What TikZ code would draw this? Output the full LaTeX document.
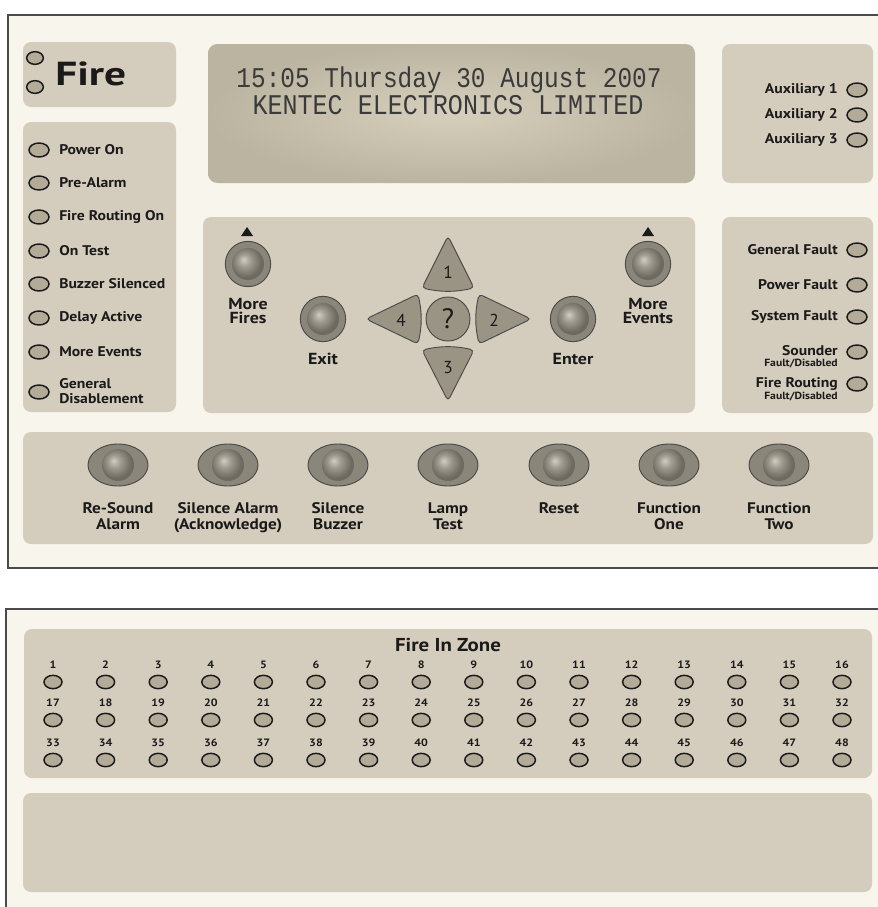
\documentclass[tikz,border=0pt]{standalone}
\usepackage{fontspec}
\usepackage{graphicx}
\setmainfont{PT Sans}
\newfontfamily\widefont[FakeStretch=1.12]{PT Sans}
\newfontfamily\lcdfont{Liberation Mono}
\usetikzlibrary{shapes.geometric}
\definecolor{cream}{HTML}{F8F5EC}
\definecolor{subp}{HTML}{D4CCBC}
\definecolor{ledfill}{HTML}{B3AB98}
\definecolor{frame}{HTML}{4A4A4A}
\definecolor{btnout}{HTML}{8B867A}
\definecolor{navfill}{HTML}{9A9484}
\definecolor{ink}{HTML}{1A1A1A}
\definecolor{lcdink}{HTML}{3A3A3A}
\definecolor{lcdhi}{HTML}{D6CFBD}
\definecolor{lcdlo}{HTML}{BBB4A0}
\definecolor{knobhi}{HTML}{D2CDC2}
\definecolor{knobmid}{HTML}{A09B8F}
\definecolor{knoblo}{HTML}{6E6A61}
\pgfdeclareradialshading{knob}{\pgfpoint{-7bp}{7bp}}{color(0bp)=(knobhi); color(10bp)=(knobmid); color(24bp)=(knoblo); color(50bp)=(knoblo)}
\begin{document}
\begin{tikzpicture}[x=0.75pt,y=-0.75pt,
  subpanel/.style={fill=subp, rounded corners=6pt},
  led/.style={ellipse, draw=ink, line width=1.1pt, fill=ledfill, minimum width=15pt, minimum height=10.5pt, inner sep=0pt},
  smallled/.style={led, minimum width=12.5pt, minimum height=9.5pt},
  zoneled/.style={led, minimum width=13.5pt, minimum height=10pt},
  lbl/.style={font=\widefont\bfseries\fontsize{10.5}{11}\selectfont, text=ink, inner sep=0pt},
  sublbl/.style={font=\widefont\bfseries\fontsize{7.8}{8}\selectfont, text=ink, inner sep=0pt},
  blbl/.style={font=\widefont\bfseries\fontsize{11.5}{12}\selectfont, text=ink, inner sep=0pt, align=center},
  nlbl/.style={font=\widefont\bfseries\fontsize{12}{10.5}\selectfont, text=ink, inner sep=0pt, align=center},
  znum/.style={font=\widefont\bfseries\fontsize{8}{8}\selectfont, text=ink, inner sep=0pt},
  navbtn/.style={circle, draw=frame, line width=0.7pt, fill=btnout, minimum size=34pt, inner sep=0pt},
  bigbtn/.style={ellipse, draw=frame, line width=0.7pt, fill=btnout, minimum width=45pt, minimum height=31.5pt, inner sep=0pt},
  knobc/.style={circle, shading=knob, minimum size=24pt, inner sep=0pt},
  navtri/.style={fill=navfill, draw=frame, line width=0.7pt, rounded corners=3pt},
  navnum/.style={font=\fontsize{13}{13}\selectfont, text=ink, inner sep=0pt},
  lcdtxt/.style={font=\lcdfont, text=lcdink, inner sep=0pt}
]
\clip (0,0) rectangle (878,907);
\fill[white] (0,0) rectangle (878,907);

% ---------- top panel ----------
\draw[fill=cream, draw=frame, line width=1.4pt] (8,15) rectangle (895,568);

% Fire box
\path[subpanel] (23,42) rectangle (176,107);
\node[smallled] (fireled1) at (35,58) {};
\node[smallled] (fireled2) at (35,87) {};
\node[font=\bfseries\fontsize{25}{25}\selectfont, text=ink, inner sep=0pt, anchor=west] (firetxt) at (55,74) {\scalebox{1.3}[1]{Fire}};

% left status panel
\path[subpanel] (23,122) rectangle (176,412);
\foreach \y/\t [count=\i] in {150/Power On, 183/Pre-Alarm, 217/Fire Routing On, 251/On Test, 284/Buzzer Silenced, 318/Delay Active, 352/More Events}{
  \node[led] (lled\i) at (39,\y) {};
  \node[lbl, anchor=west] (llbl\i) at (59,\y) {\t};
}
\node[led] (lled8) at (39,392) {};
\node[lbl, anchor=west, align=left, font=\widefont\bfseries\fontsize{10.5}{11}\selectfont] (llbl8) at (59,391) {General\\Disablement};

% LCD
\shade[rounded corners=7pt, inner color=lcdhi, outer color=lcdlo] (208,44) rectangle (695,183);
\node[lcdtxt] (lcd1) at (449,80) {\scalebox{0.985}[1.15]{\fontsize{18.6}{19}\selectfont 15:05 Thursday 30 August 2007}};
\node[lcdtxt] (lcd2) at (448,105) {\scalebox{1.01}[1.15]{\fontsize{18.6}{19}\selectfont KENTEC ELECTRONICS LIMITED}};

% Auxiliary panel
\path[subpanel] (722,44) rectangle (873,183);
\foreach \y/\t [count=\i] in {90/Auxiliary 1, 115/Auxiliary 2, 140/Auxiliary 3}{
  \node[led] (aled\i) at (857,\y) {};
  \node[lbl, anchor=east] (albl\i) at (838,\y) {\t};
}

% Fault panel
\path[subpanel] (722,217) rectangle (873,413);
\foreach \y/\t [count=\i] in {250/General Fault, 285/Power Fault, 317/System Fault}{
  \node[led] (fled\i) at (857,\y) {};
  \node[lbl, anchor=east] (flbl\i) at (838,\y) {\t};
}
\node[led] (fled4) at (857,352) {};
\node[lbl, anchor=east] (flbl4) at (838,351) {Sounder};
\node[sublbl, anchor=east] (fsub4) at (838,364) {Fault/Disabled};
\node[led] (fled5) at (857,384) {};
\node[lbl, anchor=east] (flbl5) at (838,384) {Fire Routing};
\node[sublbl, anchor=east] (fsub5) at (838,397) {Fault/Disabled};

% Navigation panel
\path[subpanel] (203,217) rectangle (695,413);
\fill[ink] (241,236) -- (253,236) -- (247,227) -- cycle;
\fill[ink] (642,236) -- (654,236) -- (648,227) -- cycle;
\node[navbtn] (morefires) at (248,264) {};
\node[knobc] at (morefires) {};
\node[nlbl] (morefireslbl) at (248,311) {More\\Fires};
\node[navbtn] (moreevents) at (648,264) {};
\node[knobc] at (moreevents) {};
\node[nlbl] (moreeventslbl) at (648,311) {More\\Events};
\node[navbtn] (exit) at (323,319) {};
\node[knobc] at (exit) {};
\node[nlbl] (exitlbl) at (323,359) {Exit};
\node[navbtn] (enter) at (573,319) {};
\node[knobc] at (enter) {};
\node[nlbl] (enterlbl) at (573,359) {Enter};
% arrow keys
\draw[navtri] (448,236) -- (474,288) to[bend left=12] (422,288) -- cycle;
\draw[navtri] (448,401) -- (422,350) to[bend left=12] (474,350) -- cycle;
\draw[navtri] (366,319) -- (418,294) to[bend left=12] (418,344) -- cycle;
\draw[navtri] (531,319) -- (479,344) to[bend left=12] (479,294) -- cycle;
\node[navnum] (k1) at (448,272) {1};
\node[navnum] (k3) at (448,368) {3};
\node[navnum] (k4) at (401,320) {4};
\node[navnum] (k2) at (494,320) {2};
\node[circle, draw=frame, line width=0.7pt, fill=navfill, minimum size=33pt, inner sep=0pt, font=\fontsize{21}{21}\selectfont, text=ink] (help) at (448,319) {?};

% bottom button panel
\path[subpanel] (23,432) rectangle (873,544);
\foreach \x/\a/\b [count=\i] in {118/Re-Sound/Alarm, 228/Silence Alarm/(Acknowledge), 338/Silence/Buzzer, 448/Lamp/Test, 559/Reset/, 669/Function/One, 779/Function/Two}{
  \node[bigbtn] (bb\i) at (\x,465) {};
  \node[knobc] at (bb\i) {};
  \node[blbl, anchor=north] (bbl\i) at (\x,502) {\a\\\b};
}

% ---------- bottom panel ----------
\draw[fill=cream, draw=frame, line width=1.4pt] (6,609) rectangle (895,930);
\path[subpanel] (24,629) rectangle (872,778);
\node[font=\widefont\bfseries\fontsize{14}{14}\selectfont, text=ink, inner sep=0pt] (zonetitle) at (448,645) {Fire In Zone};
\foreach \c in {1,...,16}{
  \pgfmathsetmacro{\xx}{53+(\c-1)*52.6}
  \pgfmathtruncatemacro{\nb}{\c+16}
  \pgfmathtruncatemacro{\nc}{\c+32}
  \node[znum] (zn\c) at (\xx,665) {\c};
  \node[zoneled] (z\c) at (\xx,682) {};
  \node[znum] (zn\nb) at (\xx,703) {\nb};
  \node[zoneled] (z\nb) at (\xx,720) {};
  \node[znum] (zn\nc) at (\xx,743) {\nc};
  \node[zoneled] (z\nc) at (\xx,760) {};
}
\path[subpanel] (23,793) rectangle (872,892);
\end{tikzpicture}
\end{document}
